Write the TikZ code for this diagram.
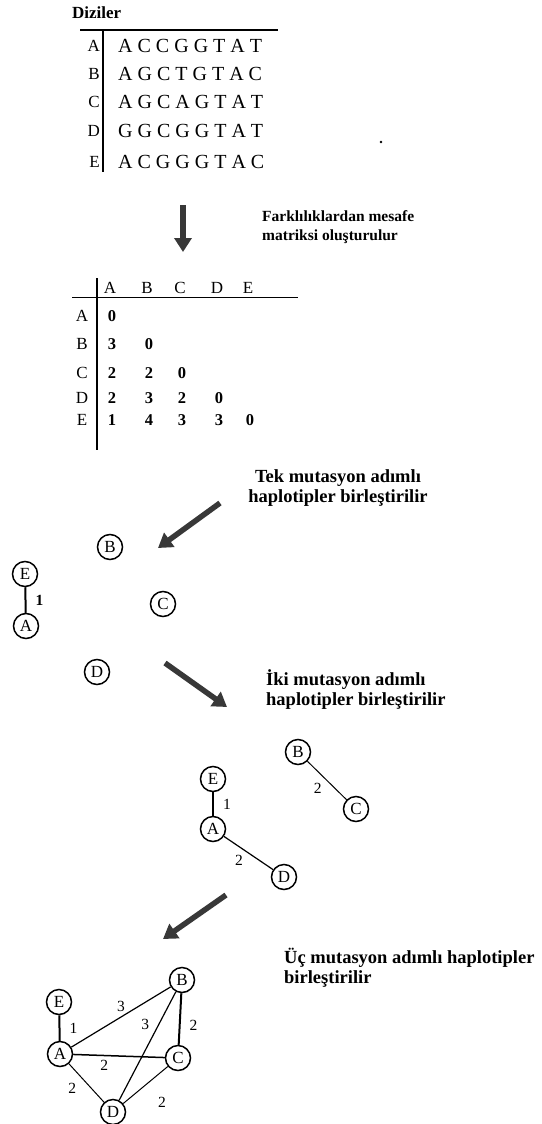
\documentclass[tikz,border=0pt]{standalone}
\usepackage{fontspec}
\setmainfont{Liberation Serif}
\usetikzlibrary{arrows.meta, positioning}

\begin{document}
\begin{tikzpicture}[x=1pt, y=-1pt, every node/.style={inner sep=0pt},
    hap/.style={circle, draw, line width=1.5pt, minimum size=25pt, font=\fontsize{17}{17}\selectfont},
    link/.style={line width=1pt},
    thicklink/.style={line width=2pt},
    num/.style={font=\fontsize{15.5}{15.5}\selectfont},
    note/.style={font=\bfseries\fontsize{18.5}{20}\selectfont, align=left},
    bigarrow/.style={line width=5.5pt, black!78, -{Triangle[length=14pt, width=17pt]}}]
    \useasboundingbox (0,0) rectangle (541,1124);

    % diziler
    \node[anchor=west, font=\bfseries\fontsize{17}{17}\selectfont] (title) at (72,13) {Diziler};
    \draw[line width=2pt] (80,30) -- (278,30);
    \draw[line width=2pt] (103,30) -- (103,172);
    \foreach \name/\seq/\y in {A/A C C G G T A T/46, B/A G C T G T A C/74,
        C/A G C A G T A T/102, D/G G C G G T A T/131, E/A C G G G T A C/162} {
        \node[anchor=east, font=\fontsize{17}{17}\selectfont] (lab\name) at (100,\y) {\name};
        \node[anchor=west, font=\fontsize{20}{20}\selectfont] (seq\name) at (118,\y) {\seq};
    }
    \fill (381,142) circle (1.3pt);

    \coordinate (go1) at (183,205);
    \coordinate (end1) at (183,252);
    \draw[bigarrow] (go1) -- (end1);
    \node[note, font=\bfseries\fontsize{15.5}{19}\selectfont, anchor=west] (step1) at (262,227)
        {Farklılıklardan mesafe\\matriksi oluşturulur};

    % mesafe matrisi
    \draw[line width=2pt] (97,278) -- (97,450);
    \draw[line width=1pt] (72,297) -- (298,297);
    \foreach \name/\x in {A/110, B/147, C/180, D/217, E/248}
        \node[font=\fontsize{17}{17}\selectfont] (col\name) at (\x,288) {\name};
    \foreach \name/\y in {A/316, B/344, C/373, D/398, E/420}
        \node[font=\fontsize{17}{17}\selectfont] (row\name) at (82,\y) {\name};
    \foreach \r/\c/\v in {A/A/0, B/A/3, B/B/0, C/A/2, C/B/2, C/C/0, D/A/2, D/B/3,
        D/C/2, D/D/0, E/A/1, E/B/4, E/C/3, E/D/3, E/E/0}
        \node[font=\bfseries\fontsize{16.5}{16.5}\selectfont, xshift=2pt] (v\r\c) at (col\c |- row\r) {\v};

    % tek adim
    \coordinate (go2) at (220,503);
    \coordinate (end2) at (158,548);
    \draw[bigarrow] (go2) -- (end2);
    \node[note, align=center] (step2) at (338,488) {Tek mutasyon adımlı\\haplotipler birleştirilir};

    \node[hap] (b1) at (110,547) {B};
    \node[hap] (e1) at (25,574) {E};
    \node[hap] (a1) at (26,626) {A};
    \node[hap] (c1) at (163,604) {C};
    \node[hap] (d1) at (97,672) {D};
    \draw[thicklink] (e1) -- node[num, font=\bfseries\fontsize{15.5}{15.5}\selectfont, right=9pt] {1} (a1);

    % iki adim
    \coordinate (go3) at (165,663);
    \coordinate (end3) at (227,707);
    \draw[bigarrow] (go3) -- (end3);
    \node[note, anchor=west] (step3) at (266,690) {İki mutasyon adımlı\\haplotipler birleştirilir};

    \node[hap] (b2) at (298,752) {B};
    \node[hap] (c2) at (356,809) {C};
    \node[hap] (e2) at (213,779) {E};
    \node[hap] (a2) at (213,829) {A};
    \node[hap] (d2) at (284,877) {D};
    \draw[thicklink] (e2) -- node[num, right=9pt] {1} (a2);
    \draw[link] (b2) -- node[num, below left=2pt and 5pt] {2} (c2);
    \draw[link, line width=1.2pt] (a2) -- node[num, below left=2pt and 5pt] {2} (d2);

    % uc adim
    \coordinate (go4) at (226,895);
    \coordinate (end4) at (163,939);
    \draw[bigarrow] (go4) -- (end4);
    \node[note, anchor=west] (step4) at (284,968) {Üç mutasyon adımlı haplotipler\\birleştirilir};

    \node[hap] (b3) at (182,980) {B};
    \node[hap] (e3) at (59,1002) {E};
    \node[hap] (a3) at (60,1054) {A};
    \node[hap] (c3) at (178,1058) {C};
    \node[hap] (d3) at (113,1112) {D};
    \draw[thicklink] (e3) -- node[num, right=9pt] {1} (a3);
    \draw[link, line width=1.2pt] (a3) -- node[num, above=5pt] {3} (b3);
    \draw[link, line width=1.2pt] (b3) -- node[num, pos=0.3, left=9pt] {3} (d3);
    \draw[thicklink] (b3) -- node[num, pos=0.63, right=9pt] {2} (c3);
    \draw[link, line width=1.5pt] (a3) -- node[num, pos=0.34, below=4pt] {2} (c3);
    \draw[link] (a3) -- node[num, below left=0pt and 10pt] {2} (d3);
    \draw[link] (c3) -- node[num, below right=12pt and 12pt] {2} (d3);
\end{tikzpicture}
\end{document}
